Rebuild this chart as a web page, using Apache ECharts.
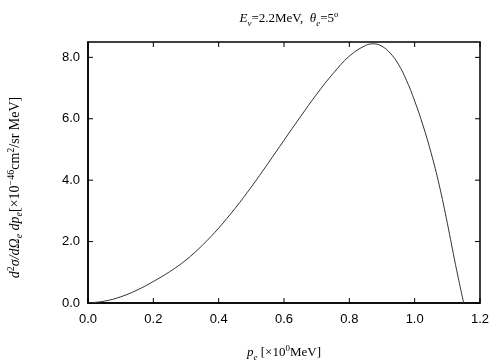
<!DOCTYPE html>
<html>
<head>
<meta charset="utf-8">
<script src="https://cdn.jsdelivr.net/npm/echarts@6/dist/echarts.min.js"></script>
<style>
  html, body { margin: 0; padding: 0; background: #fff; }
  #main { width: 504px; height: 360px; }
</style>
</head>
<body>
<div id="main"></div>
<script>
// electron momentum p_e [MeV]
var momentum = [0.0, 0.05, 0.1, 0.15, 0.2, 0.25, 0.3, 0.35, 0.4, 0.45, 0.5, 0.55, 0.6, 0.65, 0.7, 0.75,
    0.8, 0.85, 0.875, 0.9, 0.925, 0.95, 0.975, 1.0, 1.025, 1.05, 1.075, 1.1, 1.125, 1.15];
// cross section d2sigma [x10^-46 cm2/sr MeV]
var crossSection = [0.0, 0.06, 0.2, 0.42, 0.7, 1.02, 1.4, 1.88, 2.44, 3.08, 3.78, 4.53, 5.3, 6.06, 6.8, 7.47,
    8.04, 8.39, 8.44, 8.36, 8.14, 7.78, 7.25, 6.58, 5.8, 4.9, 3.85, 2.6, 1.25, 0.0];

var xTicks = [0, 0.2, 0.4, 0.6, 0.8, 1.0, 1.2];
var yTicks = [0, 2, 4, 6, 8];

var X_MIN = 0, X_MAX = 1.2, Y_MIN = 0, Y_MAX = 8.5;
var TICK_LEN = 5;

var seriesData = momentum.map(function (x, i) {
    return [x, crossSection[i]];
});

var serif = "Liberation Serif";
var sans = "Liberation Sans";

// 上下标的rich样式
function makeRich(size) {
    var small = Math.round(size * 0.7);
    return {
        n: { fontFamily: serif, fontSize: size, fontWeight: "normal", color: "#000", lineHeight: 18 },
        i: { fontFamily: serif, fontSize: size, fontStyle: "italic", fontWeight: "normal", color: "#000", lineHeight: 18 },
        sub: { fontFamily: serif, fontSize: small, fontStyle: "italic", fontWeight: "normal", color: "#000", lineHeight: 18, verticalAlign: "bottom", padding: [6, 0, 0, 0] },
        sup: { fontFamily: serif, fontSize: small, fontWeight: "normal", color: "#000", lineHeight: 18, verticalAlign: "top", padding: [0, 0, 6, 0] }
    };
}

// 朝内的刻度线，上下两边都画
function renderXTick(params, api) {
    var v = api.value(0);
    var b = api.coord([v, Y_MIN]);
    var t = api.coord([v, Y_MAX]);
    var style = { stroke: "#000", lineWidth: 1 };
    return {
        type: "group",
        children: [
            { type: "line", shape: { x1: b[0], y1: b[1], x2: b[0], y2: b[1] - TICK_LEN }, style: style },
            { type: "line", shape: { x1: t[0], y1: t[1], x2: t[0], y2: t[1] + TICK_LEN }, style: style }
        ]
    };
}

// 朝内的刻度线，左右两边都画
function renderYTick(params, api) {
    var v = api.value(1);
    var l = api.coord([X_MIN, v]);
    var r = api.coord([X_MAX, v]);
    var style = { stroke: "#000", lineWidth: 1 };
    return {
        type: "group",
        children: [
            { type: "line", shape: { x1: l[0], y1: l[1], x2: l[0] + TICK_LEN, y2: l[1] }, style: style },
            { type: "line", shape: { x1: r[0], y1: r[1], x2: r[0] - TICK_LEN, y2: r[1] }, style: style }
        ]
    };
}

var option = {
    animation: false,
    backgroundColor: "#fff",
    title: {
        text: "{i|E}{sub|ν}{n|=2.2MeV,  }{i|θ}{sub|e}{n|=5}{sup|o}",
        left: 284,
        textAlign: "center",
        top: 5,
        textStyle: { fontWeight: "normal", rich: makeRich(13) }
    },
    grid: {
        left: 88, right: 24, top: 42, bottom: 57,
        outerBoundsMode: "none",
        containLabel: false,
        show: true, borderColor: "#000", borderWidth: 1.5
    },
    xAxis: {
        type: "value",
        min: X_MIN, max: X_MAX, interval: 0.2,
        axisLine: { show: true, lineStyle: { color: "#000", width: 1.5 } },
        axisTick: { show: false },
        splitLine: { show: false },
        axisLabel: {
            color: "#000", fontFamily: sans, fontSize: 13, margin: 10,
            formatter: function (v) { return v.toFixed(1); }
        },
        name: "{i|p}{sub|e}{n| [×10}{sup|0}{n|MeV]}",
        nameLocation: "middle",
        nameGap: 41,
        nameTextStyle: { rich: makeRich(13) }
    },
    yAxis: {
        type: "value",
        min: Y_MIN, max: Y_MAX, interval: 2,
        axisLine: { show: true, lineStyle: { color: "#000", width: 1.5 } },
        axisTick: { show: false },
        splitLine: { show: false },
        axisLabel: {
            color: "#000", fontFamily: sans, fontSize: 13, margin: 8, showMaxLabel: false,
            formatter: function (v) { return yTicks.indexOf(v) >= 0 ? v.toFixed(1) : ""; }
        },
        name: "{i|d}{sup|2}{i|σ/dΩ}{sub|e}{i| dp}{sub|e}{n|[×10}{sup|−46}{n|cm}{sup|2}{n|/sr MeV]}",
        nameLocation: "middle",
        nameRotate: 90,
        nameGap: 64,
        nameTextStyle: { rich: makeRich(14), padding: [0, 30, 0, 0] }
    },
    series: [{
        type: "line",
        data: seriesData,
        smooth: 0.4,
        showSymbol: false,
        lineStyle: { color: "#333", width: 1 }
    }, {
        type: "custom",
        renderItem: renderXTick,
        data: xTicks.map(function (v) { return [v, Y_MIN]; }),
        clip: false,
        silent: true
    }, {
        type: "custom",
        renderItem: renderYTick,
        data: yTicks.map(function (v) { return [X_MIN, v]; }),
        clip: false,
        silent: true
    }]
};

var myChart = echarts.init(document.getElementById("main"));
myChart.setOption(option);
</script>
</body>
</html>
